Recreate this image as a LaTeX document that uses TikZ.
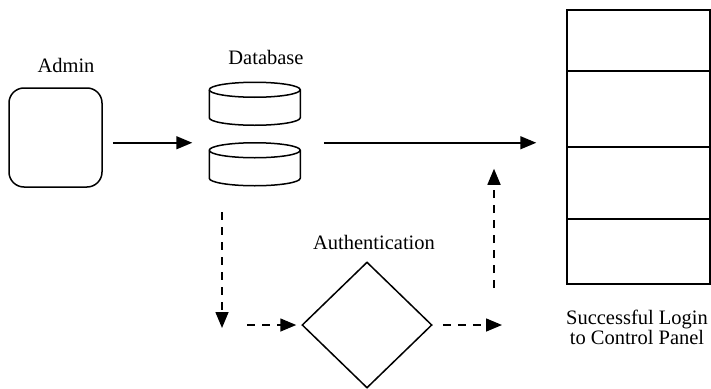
\documentclass[tikz,border=0pt]{standalone}
\usepackage{fontspec}
\setmainfont{Liberation Serif}
\usetikzlibrary{shapes.geometric, arrows.meta}
\tikzset{every picture/.style={line width=1.5pt}}

\begin{document}
\begin{tikzpicture}[x=1pt,y=1pt,yscale=-1,xscale=1,
    font=\fontsize{20.5}{20}\selectfont,
    solidarrow/.style={-{Triangle[length=16pt,width=13pt]}},
    dasharrow/.style={solidarrow, dash pattern=on 8pt off 7pt},
    dbstore/.style={minimum width=91pt, minimum height=43pt, inner sep=0pt},
    cell/.style={draw, minimum width=143pt, inner sep=0pt}]
    \useasboundingbox (0,0) rectangle (711,388);
    \node [draw, rounded corners=15pt, minimum width=93pt, minimum height=99pt] (admin) at (55.5,137.5) {};
    \node (adminlbl) at (66,65) {Admin};
    \node [dbstore] (db1) at (255.5,104.5) {};
    \node [dbstore] (db2) at (255.5,165) {};
    \foreach \c in {db1,db2} {
        \draw (\c.north west) ++(0,7.5) arc[start angle=180, end angle=-180, x radius=45.5, y radius=7.5];
        \draw (\c.north west) ++(0,7.5) -- ++(0,28) arc[start angle=180, end angle=0, x radius=45.5, y radius=7.5] -- ++(0,-28);
    }
    \node (dblbl) at (266,57) {Database};
    \node [draw, diamond, minimum width=130pt, minimum height=126pt, inner sep=0pt] (auth) at (367,325) {};
    \node (authlbl) at (374,242) {Authentication};
    \node [cell, minimum height=61pt] (row1) at (638.5,40.5) {};
    \node [cell, minimum height=76pt] (row2) at (638.5,109) {};
    \node [cell, minimum height=72pt] (row3) at (638.5,183) {};
    \node [cell, minimum height=65pt] (row4) at (638.5,251.5) {};
    \node [align=center] (panellbl) at (637,327) {Successful Login\\to Control Panel};
    \coordinate (turn) at (222,326);
    \coordinate (rise) at (494,325);
    \draw [solidarrow, shorten <=10pt, shorten >=17pt] (admin.east |- db2.north) -- (db2.west |- db2.north);
    \draw [solidarrow, shorten <=22pt, shorten >=30pt] (db2.east |- db2.north) -- (row2.west |- db2.north);
    \draw [dasharrow, shorten <=25pt, shorten >=-2pt] (turn |- db2.south) -- (turn);
    \draw [dasharrow, shorten <=25pt, shorten >=5pt] (auth.west -| turn) -- (auth.west);
    \draw [dasharrow, shorten <=10pt, shorten >=-8pt] (auth.east) -- (rise);
    \draw [dasharrow, shorten <=37pt, shorten >=21pt] (rise) -- (rise |- row2.south);
\end{tikzpicture}
\end{document}
